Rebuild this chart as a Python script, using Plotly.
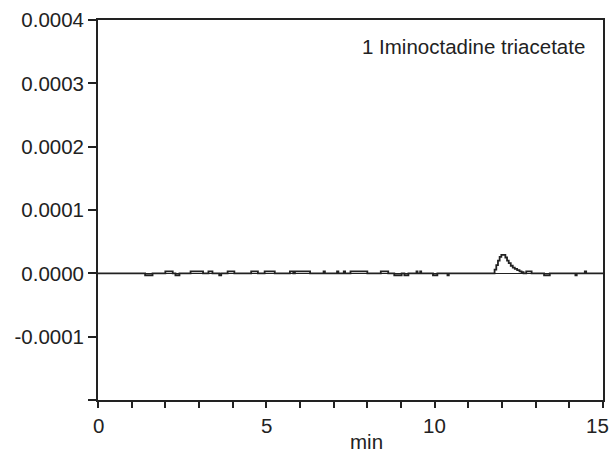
import plotly.graph_objects as go

# Chromatogram trace: retention time (min) at each step change and detector response
time_min = [
    0.0, 1.40, 1.62, 2.00, 2.22, 2.30, 2.42, 2.75, 3.12, 3.28, 3.40, 3.60, 3.66,
    3.85, 4.05, 4.55, 4.75, 4.95, 5.25, 5.70, 5.80, 5.85, 6.30, 6.70, 6.74,
    7.10, 7.14, 7.30, 7.34, 7.50, 8.00, 8.40, 8.62, 8.80, 9.02, 9.10, 9.22,
    9.46, 9.49, 9.57, 9.60, 9.95, 10.08, 10.38, 10.42,
    11.78, 11.83, 11.88, 11.93, 11.98, 12.10, 12.15, 12.20, 12.26, 12.32,
    12.38, 12.45, 12.52, 12.58, 12.64, 12.72, 12.88, 13.25, 13.42,
    14.18, 14.22, 14.46, 14.50, 15.0,
]
signal = [
    0.0, -0.000003, 0.0, 0.000003, 0.0, -0.000003, 0.0, 0.000003, 0.0, 0.000003, 0.0, -0.000003, 0.0,
    0.000003, 0.0, 0.000003, 0.0, 0.000003, 0.0, 0.000003, 0.0, 0.000003, 0.0, 0.000003, 0.0,
    0.000003, 0.0, 0.000003, 0.0, 0.000003, 0.0, 0.000003, 0.0, -0.000003, 0.0, -0.000003, 0.0,
    0.000003, 0.0, 0.000003, 0.0, -0.000003, 0.0, -0.000003, 0.0,
    0.000006, 0.000013, 0.000020, 0.000026, 0.000029, 0.000025, 0.000020, 0.000016, 0.000012,
    0.000009, 0.000007, 0.000005, 0.000003, 0.000002, 0.0, 0.000003, 0.0, -0.000003, 0.0,
    -0.000003, 0.0, 0.000003, 0.0, 0.0,
]

x_ticks = list(range(0, 16))
x_label_every = 5
y_ticks = [-0.0002, -0.0001, 0.0, 0.0001, 0.0002, 0.0003, 0.0004]
y_labels = ["", "-0.0001", "0.0000", "0.0001", "0.0002", "0.0003", "0.0004"]

ink = "#222222"
font = dict(family="Liberation Sans, Arial, sans-serif", size=20.5, color=ink)

fig = go.Figure(
    go.Scatter(
        x=time_min, y=signal, mode="lines",
        line=dict(color=ink, width=1.8, shape="hv"),
        showlegend=False, hoverinfo="skip",
    )
)

# x tick labels are drawn as annotations; the last one is tucked in so it stays on the page
x_max = x_ticks[-1]
x_label_annotations = []
for v in x_ticks:
    if v % x_label_every:
        continue
    at_edge = v == x_max
    x_label_annotations.append(dict(
        text=str(v), x=v, y=0, xref="x", yref="paper",
        xanchor="right" if at_edge else "center", xshift=8 if at_edge else 0,
        yanchor="top", yshift=-12, showarrow=False, font=font,
    ))

fig.update_layout(
    width=612, height=452,
    margin=dict(l=98, r=9, t=20, b=52),
    paper_bgcolor="white", plot_bgcolor="white",
    font=font,
    xaxis=dict(
        range=[0, 15], tickmode="array", tickvals=x_ticks, ticktext=[""] * len(x_ticks),
        ticks="outside", ticklen=6, tickwidth=1.6, tickcolor=ink,
        showline=True, linecolor=ink, linewidth=1.8, mirror=True,
        showgrid=False, zeroline=False, tickfont=font, automargin=False,
    ),
    yaxis=dict(
        range=[-0.0002, 0.0004], tickmode="array", tickvals=y_ticks, ticktext=y_labels,
        ticks="outside", ticklen=8, tickwidth=1.6, tickcolor=ink,
        showline=True, linecolor=ink, linewidth=1.8, mirror=True,
        showgrid=False, zeroline=True, zerolinecolor=ink, zerolinewidth=1.2,
        tickfont=font, automargin=False,
    ),
    annotations=x_label_annotations + [
        dict(text="1 Iminoctadine triacetate", x=14.52, y=0.000358, xref="x", yref="y",
             xanchor="right", yanchor="middle", showarrow=False, font=font),
        dict(text="min", x=(366 - 98) / 505, y=0, xref="paper", yref="paper",
             xanchor="center", yanchor="bottom", yshift=-55, showarrow=False, font=font),
    ],
)

fig.write_html("out.html")
